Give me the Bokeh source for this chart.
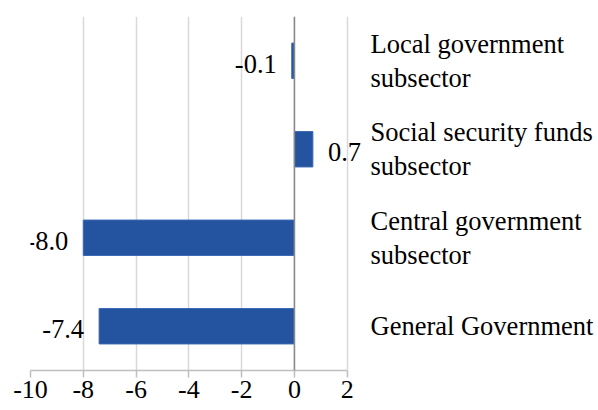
from bokeh.plotting import figure
from bokeh.models import Range1d, FactorRange, Span, FixedTicker, ColumnDataSource, LabelSet
from bokeh.core.properties import value
from bokeh.embed import file_html
from bokeh.resources import INLINE

categories = ["General Government", "Central government\nsubsector",
              "Social security funds\nsubsector", "Local government\nsubsector"]
values = [-7.4, -8.0, 0.7, -0.1]
labels = ["-7.4", "-8.0", "0.7", "-0.1"]
x_ticks = [-10, -8, -6, -4, -2, 0, 2]
x_tick_labels = ["-10", "-8", "-6", "-4", "-2", "0", "2"]

FONT = "Liberation Serif"
BAR = "#2453a0"

src = ColumnDataSource(dict(
    cat=categories,
    val=values,
    lab=labels,
    align=["right" if v < 0 else "left" for v in values],
    xoff=[-15 if v < 0 else 15 for v in values],
))

p = figure(width=598, height=410, output_backend="svg", toolbar_location=None,
           x_range=Range1d(-10, 2.58), y_range=FactorRange(factors=categories),
           y_axis_location="right",
           min_border_left=30, min_border_right=236, min_border_top=16, min_border_bottom=40)
p.outline_line_color = None
p.background_fill_color = "white"

p.hbar(y="cat", left=0, right="val", height=0.4, source=src,
       fill_color=BAR, line_color="#3a68b4", line_width=1)

p.add_layout(Span(location=0, dimension="height", line_color="#898989", line_width=1.5))

lbl = LabelSet(x="val", y="cat", text="lab", source=src, x_offset="xoff", y_offset=-3,
               text_align="align", text_baseline="middle",
               text_font=value(FONT), text_font_size=value("26.5px"), text_color="black")
p.add_layout(lbl)

# x axis
xa = p.xaxis[0]
xa.ticker = FixedTicker(ticks=x_ticks)
xa.bounds = (x_ticks[0], x_ticks[-1])
xa.major_label_overrides = {t: s for t, s in zip(x_ticks, x_tick_labels)}
xa.axis_line_color = "#bfbfbf"
xa.axis_line_width = 1.5
xa.major_tick_line_color = "#bfbfbf"
xa.major_tick_line_width = 1.5
xa.major_tick_in = 0
xa.major_tick_out = 7
xa.minor_tick_line_color = None
xa.major_label_standoff = 3
xa.major_label_text_font = FONT
xa.major_label_text_font_size = "26px"
xa.major_label_text_color = "black"

# y axis (right)
ya = p.yaxis[0]
ya.axis_line_color = None
ya.major_tick_line_color = None
ya.minor_tick_line_color = None
ya.major_label_standoff = 2
ya.major_label_text_font = FONT
ya.major_label_text_font_size = "26.5px"
ya.major_label_text_color = "black"
ya.major_label_text_line_height = 1.12

p.xgrid.grid_line_color = "#d9d9d9"
p.xgrid.grid_line_width = 1.5
p.ygrid.grid_line_color = None

open("out.html", "w").write(file_html(p, INLINE))
